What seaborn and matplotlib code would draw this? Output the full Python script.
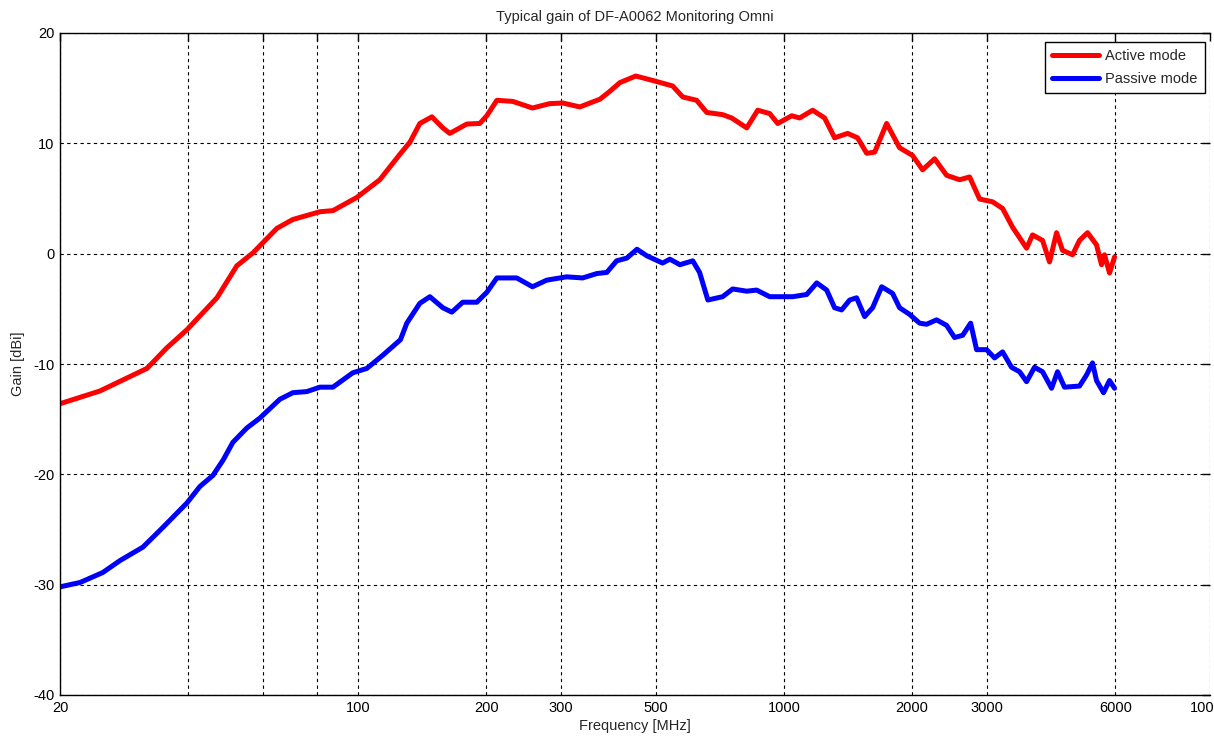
import numpy as np
import matplotlib
matplotlib.use("Agg")
import matplotlib.pyplot as plt
import pandas as pd
import seaborn as sns

# values
active_freq = [20, 24.8, 29.7, 32.0, 35.6, 39.7, 46.7, 52.0, 56.7, 64.6, 70.4, 81.5, 87.4, 99.5,
               112.6, 125.5, 132.5, 139.8, 149.2, 158.3, 164.4, 180.2, 193.3, 200.8, 212, 231,
               257, 282, 303, 332, 370, 390, 412, 449, 492, 548, 579, 624, 659, 718, 754, 818,
               868, 926, 967, 1043, 1089, 1168, 1246, 1315, 1411, 1489, 1564, 1633, 1742, 1868,
               2004, 2116, 2258, 2409, 2584, 2728, 2879, 3088, 3260, 3440, 3711, 3833, 4046,
               4201, 4364, 4507, 4758, 4940, 5159, 5416, 5564, 5655, 5810, 5970]
active_gain = [-13.6, -12.45, -11.0, -10.4, -8.55, -6.9, -4.0, -1.1, 0.06, 2.3, 3.1, 3.8, 3.9, 5.1,
               6.7, 9.0, 10.1, 11.8, 12.4, 11.4, 10.9, 11.75, 11.8, 12.5, 13.9, 13.8,
               13.2, 13.6, 13.65, 13.3, 14.0, 14.7, 15.5, 16.1, 15.7, 15.2, 14.2, 13.9, 12.8, 12.6, 12.3, 11.4,
               13.0, 12.7, 11.8, 12.5, 12.3, 13.0, 12.3, 10.5, 10.9, 10.5, 9.1, 9.2, 11.8, 9.6,
               8.9, 7.6, 8.6, 7.1, 6.7, 6.95, 4.95, 4.7, 4.1, 2.4, 0.5, 1.7, 1.2,
               -0.75, 1.9, 0.3, -0.1, 1.2, 1.9, 0.8, -1.0, -0.1, -1.75, -0.3]

passive_freq = [20, 22.3, 25.2, 27.7, 31.3, 34.9, 39.7, 42.6, 45.7, 48.3, 50.9, 54.9, 58.9, 65.6,
                70.4, 75.9, 81.5, 87.4, 97.3, 105, 114.5, 125.9, 130.3, 139.8, 147.6, 158.3, 166.2,
                176.3, 190.2, 200.8, 212, 236, 257, 277.5, 309, 337, 364, 384, 405, 428, 452, 477,
                519, 540, 570, 611, 634, 663, 718, 758, 818, 863, 926, 993, 1049, 1131, 1194,
                1260, 1315, 1366, 1427, 1481, 1547, 1615, 1696, 1799, 1868, 1972, 2082, 2162, 2282,
                2409, 2515, 2627, 2743, 2833, 2990, 3122, 3260, 3422, 3573, 3711, 3874, 4046, 4248,
                4387, 4555, 4940, 5131, 5300, 5416, 5625, 5810, 5970]
passive_gain = [-30.2, -29.8, -28.9, -27.8, -26.6, -24.8, -22.6, -21.1, -20.1, -18.7, -17.1, -15.8, -14.9, -13.2,
                -12.6, -12.5, -12.1, -12.1, -10.8, -10.4, -9.2, -7.8, -6.3, -4.5, -3.9, -4.9, -5.3,
                -4.4, -4.4, -3.5, -2.2, -2.2, -3.0, -2.4, -2.1, -2.2, -1.8, -1.7, -0.65, -0.4, 0.4, -0.2,
                -0.85, -0.5, -1.0, -0.65, -1.7, -4.2, -3.9, -3.2, -3.4, -3.3, -3.9, -3.9, -3.9, -3.7, -2.65,
                -3.3, -4.9, -5.1, -4.2, -4.0, -5.7, -4.9, -3.0, -3.6, -4.9, -5.5, -6.3, -6.4, -6.0,
                -6.5, -7.6, -7.4, -6.3, -8.7, -8.7, -9.45, -8.9, -10.3, -10.7, -11.6, -10.3, -10.7, -12.2,
                -10.7, -12.1, -12.0, -11.0, -9.9, -11.5, -12.6, -11.5, -12.2]

xticks = [20, 40, 60, 80, 100, 200, 300, 500, 1000, 2000, 3000, 6000, 10000]
xticklabels = ["20", "", "", "", "100", "200", "300", "500", "1000", "2000", "3000", "6000", "10000"]
yticks = [-40, -30, -20, -10, 0, 10, 20]

df = pd.concat([
    pd.DataFrame({"freq": active_freq, "gain": active_gain, "mode": "Active mode"}),
    pd.DataFrame({"freq": passive_freq, "gain": passive_gain, "mode": "Passive mode"}),
])

sns.set_style("white")
plt.rcParams["font.family"] = ["Liberation Sans", "DejaVu Sans"]
plt.rcParams["axes.unicode_minus"] = False

fig = plt.figure(figsize=(12.14, 7.4), dpi=100)
ax = fig.add_axes([60 / 1214, 45 / 740, 1150 / 1214, 662 / 740])

sns.lineplot(data=df, x="freq", y="gain", hue="mode", palette=["#ff0000", "#0000ff"],
             linewidth=3.6, sort=False, ax=ax)

ax.set_xscale("log")
ax.set_xlim(20, 10000)
ax.set_ylim(-40, 20)
ax.minorticks_off()
ax.set_xticks(xticks)
ax.set_xticklabels(xticklabels)
ax.set_yticks(yticks)
ax.tick_params(direction="in", length=6, width=1, top=True, right=True,
               labelsize=10.5, colors="black", pad=4)
ax.grid(True, color="black", linestyle=(0, (3, 3)), linewidth=0.8)
for side in ["left", "bottom", "top"]:
    ax.spines[side].set_color("black")
    ax.spines[side].set_linewidth(1)
ax.spines["right"].set_visible(False)

ax.set_title("Typical gain of DF-A0062 Monitoring Omni", fontsize=10.5, pad=9)
ax.set_xlabel("Frequency [MHz]", fontsize=10.5, labelpad=3)
ax.set_ylabel("Gain [dBi]", fontsize=10.5, labelpad=6)

leg = ax.legend(loc="upper right", bbox_to_anchor=(1205 / 1214, 1 - 42 / 740),
                bbox_transform=fig.transFigure, borderaxespad=0, fancybox=False,
                framealpha=1, edgecolor="black", fontsize=10.5, handlelength=3.2,
                handletextpad=0.45, labelspacing=0.6, borderpad=0.5, title=None)
leg.get_frame().set_linewidth(1)
for line in leg.get_lines():
    line.set_linewidth(3.6)

fig.savefig("out.png", dpi=100)
